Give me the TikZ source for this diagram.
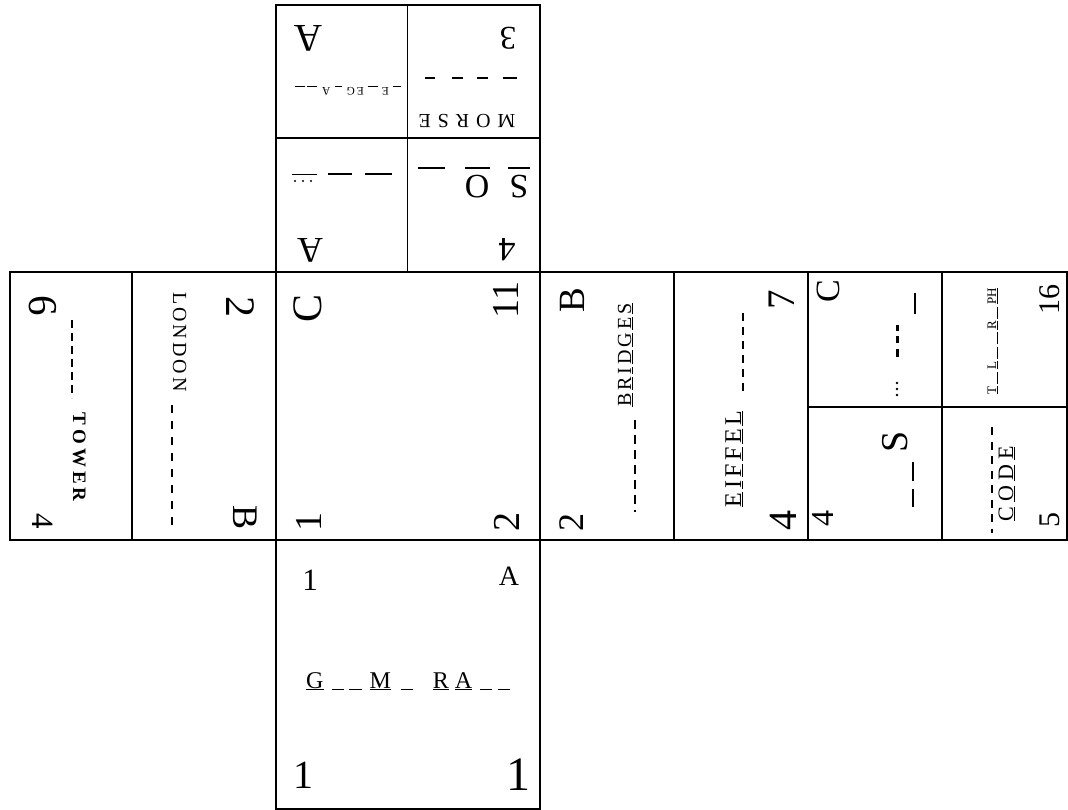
\documentclass[tikz,border=0pt]{standalone}
\usepackage{fontspec}
\setmainfont{Liberation Serif}
\newcommand{\blank}[1]{\rule[-2pt]{#1pt}{1.1pt}}
\tikzset{
  cell/.style={line width=1.8pt},
  glyph/.style={inner sep=0pt, font=\fontsize{#1}{#1}\selectfont},
  word/.style={inner sep=0pt, anchor=base, font=\fontsize{#1}{#1}\selectfont},
  blankline/.style={line width=1.3pt},
  dashblank/.style={line width=1.2pt, dash pattern=on 8pt off 6pt},
}
\begin{document}
\begin{tikzpicture}[x=1pt,y=-1pt]
\useasboundingbox (0,0) rectangle (1068,810);
% ---------- grid of the net ----------
\draw[cell] (276,5) rectangle (540,272);
\draw[cell] (407.5,5) -- (407.5,272);
\draw[cell] (276,138) -- (540,138);
\draw[cell] (10,272) rectangle (1067,540);
\foreach \x in {132,276,540,674,808,942} \draw[cell] (\x,272) -- (\x,540);
\draw[cell] (808,407) -- (1067,407);
\draw[cell] (276,540) rectangle (540,809);
% ---------- top-left face ----------
\node[glyph=39, rotate=180] (tlA) at (308,38) {A};
\node[word=11.5, rotate=180] (tlw) at (348,88) {\blank{8}\kern4pt E\kern4pt\blank{10}\kern4pt E\kern2pt G\kern4pt\blank{7}\kern5pt A\kern5pt\blank{10}\kern2pt\blank{10}};
% ---------- top-right face ----------
\node[glyph=33, rotate=180] (tr3) at (508,38) {3};
\foreach \a/\b in {425/435,452/463,477/488,503/517} \draw[blankline] (\a,78) -- (\b,78);
\node[word=20, rotate=180] (trw) at (467,115) {M\kern7pt O\kern7pt R\kern7pt S\kern7pt E};
% ---------- second-left face ----------
\node[glyph=36, rotate=180] (slA) at (310,250) {A};
\draw[line width=0.8pt] (292,174) -- (317,174);
\foreach \x in {295,303,311} \fill (\x,181) circle (1.2pt);
\draw[line width=1.8pt] (328,174) -- (352,174);
\draw[line width=1.8pt] (365,174) -- (392,174);
% ---------- second-right face ----------
\draw[blankline] (418,168) -- (445,168);
\node[glyph=34, rotate=180] (srO) at (477,187) {O};
\draw[blankline] (465,168) -- (490,168);
\node[glyph=34, rotate=180] (srS) at (519,187) {S};
\draw[blankline] (508,168) -- (530,168);
\node[glyph=34, rotate=180] (sr4) at (507,250) {4};
% ---------- Tower ----------
\node[glyph=41, rotate=-90] (tw6) at (43,306) {6};
\node[glyph=31, rotate=-90] (tw4) at (43,521) {4};
\draw[dashblank, dash pattern=on 8pt off 5pt] (72,320) -- (72,398);
\node[word=19, rotate=-90] (tww) at (73,457) {\bfseries T\kern4pt O\kern4pt W\kern4pt E\kern4pt R};
% ---------- London ----------
\node[glyph=42, rotate=-90] (ld2) at (240,307) {2};
\node[glyph=36, rotate=-90] (ldB) at (245,518) {B};
\node[word=20, rotate=-90] (ldw) at (173,342) {L\kern3pt O\kern3pt N\kern3pt D\kern3pt O\kern3pt N};
\draw[dashblank, dash pattern=on 8pt off 8pt] (172,405) -- (172,527);
% ---------- centre ----------
\node[glyph=42, rotate=90] (cC) at (308,308) {C};
\node[glyph=38, rotate=90] (c11) at (506,300) {11};
\node[glyph=38, rotate=90] (c1) at (309,522) {1};
\node[glyph=38, rotate=90] (c2) at (507,522) {2};
% ---------- Bridges ----------
\node[glyph=37, rotate=90] (bB) at (572,300) {B};
\node[glyph=36, rotate=90] (b2) at (572,522) {2};
\node[word=20, rotate=90] (bw) at (631,355) {\underline{B}\kern3pt\underline{R}\kern3pt\underline{I}\kern3pt\underline{D}\kern3pt\underline{G}\kern3pt\underline{E}\kern3pt\underline{S}};
\draw[dashblank, dash pattern=on 9pt off 6pt] (635,420) -- (635,512);
% ---------- Eiffel ----------
\node[glyph=39, rotate=90] (e7) at (782,300) {7};
\node[glyph=40, rotate=90] (e4) at (783,520) {4};
\node[word=24, rotate=90] (ew) at (741,459) {\underline{E}\kern3.5pt\underline{I}\kern3.5pt\underline{F}\kern3.5pt\underline{F}\kern3.5pt\underline{E}\kern3.5pt\underline{L}};
\draw[dashblank] (743,313) -- (743,392);
% ---------- right small top ----------
\node[glyph=34, rotate=90] (mC) at (828,291) {C};
\draw[line width=1.2pt] (915,293) -- (915,314);
\foreach \a/\b in {325/331,336/343,349/357} \draw[line width=3pt] (897,\a) -- (897,\b);
\foreach \y in {383,389,395} \fill (897,\y) circle (1.3pt);
% ---------- right small bottom ----------
\node[glyph=32, rotate=90] (m4) at (823,518) {4};
\node[glyph=38, rotate=90] (mS) at (895,442) {S};
\draw[blankline] (913,462) -- (913,481);
\draw[blankline] (913,489) -- (913,507);
% ---------- right column top ----------
\node[glyph=30, rotate=90] (r16) at (1050,299) {16};
\node[word=13, rotate=90] (rw) at (996,341) {\underline{T}\kern2.5pt\blank{12}\kern2.5pt\underline{L}\kern2.5pt\blank{12}\kern2.5pt\blank{12}\kern2.5pt\underline{R}\kern2.5pt\blank{12}\kern2.5pt\underline{P}\underline{H}};
% ---------- right column bottom ----------
\node[glyph=30, rotate=90] (r5) at (1050,520) {5};
\node[word=22, rotate=90] (cw) at (1013,484) {\underline{C}\kern5pt\underline{O}\kern5pt\underline{D}\kern5pt\underline{E}};
\draw[dashblank, dash pattern=on 8pt off 6.5pt] (992,427) -- (992,533);
% ---------- bottom face ----------
\node[glyph=31] (bt1) at (310,580) {1};
\node[glyph=28] (btA) at (509,576) {A};
\node[word=24, anchor=base west] (btw) at (306,688) {\underline{G}\kern8pt\blank{12}\kern5pt\blank{13}\kern8pt\underline{M}\kern10pt\blank{12}\kern20pt\underline{R}\kern6pt\underline{A}\kern8pt\blank{12}\kern6pt\blank{12}};
\node[glyph=40] (bl1) at (303,775) {1};
\node[glyph=48] (br1) at (518,775) {1};
\end{tikzpicture}
\end{document}
